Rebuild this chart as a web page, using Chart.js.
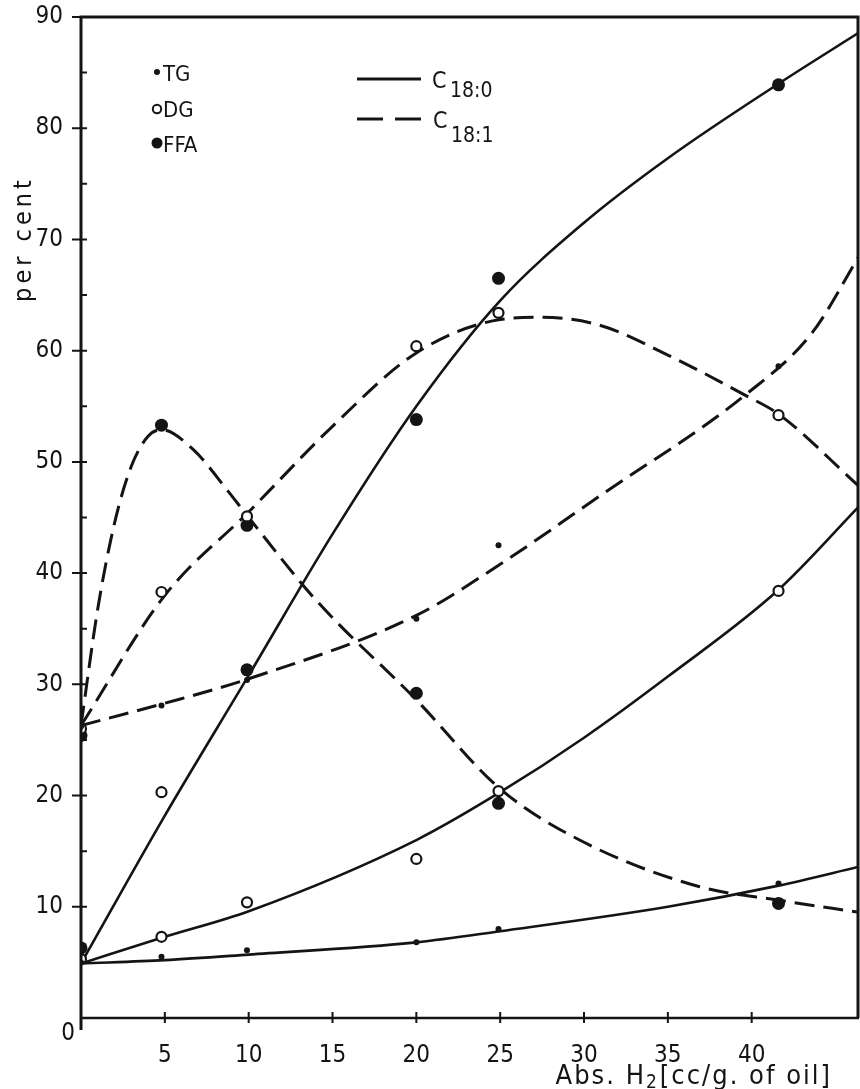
<!DOCTYPE html>
<html>
<head>
<meta charset="utf-8">
<script src="https://cdn.jsdelivr.net/npm/chart.js@4/dist/chart.umd.min.js"></script>
<style>
  html, body { margin: 0; padding: 0; background: #fff; }
  #wrap { width: 860px; height: 1089px; position: relative; }
</style>
</head>
<body>
<div id="wrap"><canvas id="myChart"></canvas></div>
<script>
// measured points (x = absorbed H2, y = per cent)
const sampleX = [0, 4.8, 9.9, 20, 24.9, 41.6];
const tgC180 = [5.0, 5.5, 6.1, 6.8, 8.0, 12.1];
const tgC181 = [26.2, 28.1, 30.4, 35.9, 42.5, 58.6];
const dgC180 = [5.3, 7.3, 10.4, 14.3, 20.4, 38.4];
const dgC181 = [26.0, 38.3, 45.1, 60.4, 63.4, 54.2];
const ffaC180 = [6.3, 20.3, 31.3, 53.8, 66.5, 83.9];
const ffaC181 = [25.4, 53.3, 44.3, 29.2, 19.3, 10.3];

// fitted curves
const tgC180CurveX = [0, 5, 10, 20, 25, 35, 41.6, 46.4];
const tgC180CurveY = [4.9, 5.2, 5.7, 6.8, 7.8, 10.0, 11.9, 13.6];
const dgC180CurveX = [0, 5, 10, 20, 25, 30, 35, 41.6, 46.4];
const dgC180CurveY = [4.9, 7.3, 9.6, 16.0, 20.3, 25.2, 30.7, 38.5, 46.0];
const ffaC180CurveX = [0, 5, 10, 15, 20, 25, 30, 35, 41.6, 46.4];
const ffaC180CurveY = [4.9, 18.2, 30.8, 43.5, 55.0, 64.5, 71.5, 77.3, 84.0, 88.6];
const tgC181CurveX = [0, 5, 10, 20, 25, 30.9, 39.6, 43.6, 46.4];
const tgC181CurveY = [26.3, 28.3, 30.5, 36.2, 40.8, 46.9, 56.0, 61.6, 68.5];
const dgC181CurveX = [0, 5, 10, 15, 20, 25, 27.5, 30.9, 35, 39.6, 41.6, 46.4];
const dgC181CurveY = [26.3, 38.0, 45.5, 53.2, 59.8, 62.8, 63.0, 62.3, 59.6, 56.0, 54.3, 47.8];
const ffaC181CurveX = [0, 1, 2, 3, 4, 4.8, 6.7, 8.7, 10, 14, 20, 25, 30, 36.9, 41.6, 46.4];
const ffaC181CurveY = [26.3, 36.8, 44.5, 49.6, 52.3, 52.9, 51.1, 47.5, 45.0, 37.6, 28.6, 20.6, 15.8, 11.8, 10.6, 9.5];

// axis ticks
const xTickLabels = [5, 10, 15, 20, 25, 30, 35, 40];
const yTickLabels = [10, 20, 30, 40, 50, 60, 70, 80, 90];
const yMinorTicks = [5, 15, 25, 35, 45, 55, 65, 75, 85];

const INK = '#141414';
const FONT = '"DejaVu Sans Condensed", "DejaVu Sans", sans-serif';

function pts(xs, ys) {
    return xs.map((x, i) => ({ x: x, y: ys[i] }));
}

function curve(xs, ys, dashed) {
    return {
        data: pts(xs, ys),
        borderColor: INK,
        borderWidth: dashed ? 3 : 2.6,
        borderDash: dashed ? [20, 9] : [],
        pointRadius: 0,
        cubicInterpolationMode: 'monotone',
        fill: false,
        order: 2
    };
}

function marks(ys, kind) {
    const style = {
        tg: { r: 3, bg: INK, bw: 0 },
        dg: { r: 5, bg: '#fff', bw: 2.2 },
        ffa: { r: 6.5, bg: INK, bw: 0 }
    }[kind];
    return {
        data: pts(sampleX, ys),
        showLine: false,
        pointRadius: style.r,
        pointBackgroundColor: style.bg,
        pointBorderColor: INK,
        pointBorderWidth: style.bw,
        order: 1
    };
}

const ffaMarks = marks(ffaC180, 'ffa');
// the 5 cc point of this series is printed as an open ring
ffaMarks.pointBackgroundColor = ffaC180.map((v, i) => i === 1 ? '#fff' : INK);
ffaMarks.pointBorderWidth = ffaC180.map((v, i) => i === 1 ? 2.2 : 0);
ffaMarks.pointRadius = ffaC180.map((v, i) => i === 1 ? 5 : 6.5);

// axes, frame, titles and legend drawn on top of the scales
const decor = {
    id: 'decor',
    afterDraw(chart) {
        const ctx = chart.ctx;
        const a = chart.chartArea;
        const x = chart.scales.x, y = chart.scales.y;
        ctx.save();
        ctx.strokeStyle = INK;
        ctx.fillStyle = INK;
        ctx.lineCap = 'butt';

        // frame
        ctx.lineWidth = 3;
        ctx.beginPath();
        ctx.moveTo(a.left, a.bottom + 12);
        ctx.lineTo(a.left, a.top);
        ctx.lineTo(a.right - 1, a.top);
        ctx.lineTo(a.right - 1, a.bottom);
        ctx.stroke();
        ctx.lineWidth = 2.6;
        ctx.beginPath();
        ctx.moveTo(a.left, a.bottom);
        ctx.lineTo(a.right, a.bottom);
        ctx.stroke();

        // ticks
        ctx.lineWidth = 2;
        ctx.beginPath();
        yTickLabels.forEach(v => {
            const py = y.getPixelForValue(v);
            ctx.moveTo(a.left - 9, py); ctx.lineTo(a.left + 6, py);
        });
        yMinorTicks.forEach(v => {
            const py = y.getPixelForValue(v);
            ctx.moveTo(a.left, py); ctx.lineTo(a.left + 6, py);
        });
        xTickLabels.forEach(v => {
            const px = x.getPixelForValue(v);
            ctx.moveTo(px, a.bottom - 6); ctx.lineTo(px, a.bottom + 5);
        });
        ctx.stroke();

        // origin label
        ctx.font = '24px ' + FONT;
        ctx.textAlign = 'center';
        ctx.textBaseline = 'alphabetic';
        ctx.fillText('0', a.left - 13, a.bottom + 22);

        // x title with subscript
        const big = '27px ' + FONT, small = '19px ' + FONT;
        ctx.textAlign = 'left';
        ctx.letterSpacing = '2px';
        ctx.font = big;
        const w1 = ctx.measureText('Abs. H').width;
        const w3 = ctx.measureText('[cc/g. of oil]').width;
        ctx.font = small;
        const w2 = ctx.measureText('2').width + 1;
        let tx = 832 - (w1 + w2 + w3);
        const by = 1084;
        ctx.font = big; ctx.fillText('Abs. H', tx, by);
        ctx.font = small; ctx.fillText('2', tx + w1, by + 4);
        ctx.font = big; ctx.fillText('[cc/g. of oil]', tx + w1 + w2, by);

        // y title
        ctx.save();
        ctx.translate(31, 239);
        ctx.rotate(-Math.PI / 2);
        ctx.font = '25px ' + FONT;
        ctx.letterSpacing = '4px';
        ctx.textAlign = 'center';
        ctx.fillText('per cent', 0, 0);
        ctx.restore();
        ctx.letterSpacing = '0px';

        // marker legend
        ctx.font = '22px ' + FONT;
        ctx.textAlign = 'left';
        ctx.textBaseline = 'middle';
        ctx.beginPath(); ctx.arc(157, 72, 3, 0, Math.PI * 2); ctx.fill();
        ctx.fillText('TG', 163, 75);
        ctx.lineWidth = 2;
        ctx.beginPath(); ctx.arc(157, 109, 4.2, 0, Math.PI * 2); ctx.stroke();
        ctx.fillText('DG', 163, 111);
        ctx.beginPath(); ctx.arc(157, 143, 5.5, 0, Math.PI * 2); ctx.fill();
        ctx.fillText('FFA', 163, 146);

        // line legend
        ctx.lineWidth = 3;
        ctx.beginPath(); ctx.moveTo(357, 79); ctx.lineTo(421, 79); ctx.stroke();
        ctx.setLineDash([26, 12]);
        ctx.beginPath(); ctx.moveTo(357, 119); ctx.lineTo(421, 119); ctx.stroke();
        ctx.setLineDash([]);
        ctx.textBaseline = 'alphabetic';
        ctx.font = '23px ' + FONT;
        ctx.fillText('C', 432, 88);
        ctx.fillText('C', 433, 128);
        ctx.font = '21px ' + FONT;
        ctx.fillText('18:0', 450, 97);
        ctx.fillText('18:1', 451, 142);
        ctx.restore();
    }
};

const ctx = document.getElementById('myChart').getContext('2d');

const myChart = new Chart(ctx, {
    type: 'line',
    data: {
        datasets: [
            marks(tgC180, 'tg'),
            marks(tgC181, 'tg'),
            marks(dgC180, 'dg'),
            marks(dgC181, 'dg'),
            ffaMarks,
            marks(ffaC181, 'ffa'),
            curve(tgC180CurveX, tgC180CurveY, false),
            curve(dgC180CurveX, dgC180CurveY, false),
            curve(ffaC180CurveX, ffaC180CurveY, false),
            curve(tgC181CurveX, tgC181CurveY, true),
            curve(dgC181CurveX, dgC181CurveY, true),
            curve(ffaC181CurveX, ffaC181CurveY, true)
        ]
    },
    options: {
        responsive: true,
        maintainAspectRatio: false,
        animation: false,
        layout: {
            autoPadding: false,
            padding: { top: 17, right: 1, left: 0, bottom: 0 }
        },
        plugins: {
            legend: { display: false },
            tooltip: { enabled: false }
        },
        scales: {
            x: {
                type: 'linear',
                min: 0,
                max: 46.4,
                grid: { display: false, drawTicks: false },
                border: { display: false },
                ticks: {
                    stepSize: 5,
                    autoSkip: false,
                    maxRotation: 0,
                    padding: 23,
                    color: INK,
                    font: { family: FONT, size: 24 },
                    callback: v => xTickLabels.includes(v) ? v : ''
                },
                afterFit: s => {
                    s.height = 71;
                    s.paddingLeft = 0;
                    s.paddingRight = 0;
                }
            },
            y: {
                min: 0,
                max: 90,
                grid: { display: false, drawTicks: false },
                border: { display: false },
                ticks: {
                    stepSize: 5,
                    autoSkip: false,
                    padding: 18,
                    color: INK,
                    font: { family: FONT, size: 24 },
                    callback: v => yTickLabels.includes(v) ? v : ''
                },
                afterFit: s => {
                    s.width = 81;
                    s.paddingTop = 0;
                    s.paddingBottom = 0;
                }
            }
        }
    },
    plugins: [decor]
});
</script>
</body>
</html>
